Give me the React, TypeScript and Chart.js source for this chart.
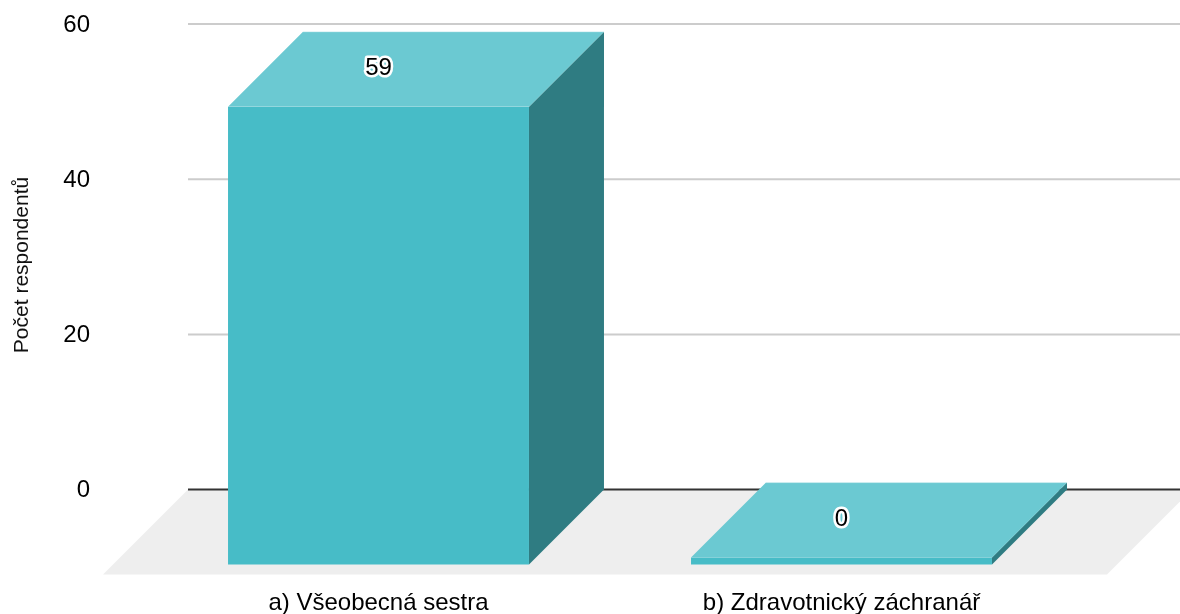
import React, { useEffect, useRef } from "react";
import { Chart, registerables } from "chart.js";

Chart.register(...registerables);

const categories = ["a) Všeobecná sestra", "b) Zdravotnický záchranář"];
const respondents = [59, 0];
const axisTitle = "Počet respondentů";

const FONT = "'Liberation Sans', Arial, sans-serif";
const DEPTH = 75;
const DROP = 75;
const FLOOR = 85;
const GRID_L = 188;
const GRID_R = 1192;

const box3d = {
  id: "box3d",
  beforeDatasetsDraw(chart: any) {
    const { ctx } = chart;
    const y = chart.scales.y;
    const zero = y.getPixelForValue(0);
    ctx.save();
    ctx.fillStyle = "#eeeeee";
    ctx.beginPath();
    ctx.moveTo(GRID_L, zero);
    ctx.lineTo(GRID_R, zero);
    ctx.lineTo(GRID_R - FLOOR, zero + FLOOR);
    ctx.lineTo(GRID_L - FLOOR, zero + FLOOR);
    ctx.closePath();
    ctx.fill();
    y.ticks.forEach((t: any) => {
      const py = y.getPixelForValue(t.value);
      ctx.strokeStyle = t.value === 0 ? "#333333" : "#cccccc";
      ctx.lineWidth = 2;
      ctx.beginPath();
      ctx.moveTo(GRID_L, py);
      ctx.lineTo(GRID_R, py);
      ctx.stroke();
    });
    chart.getDatasetMeta(0).data.forEach((el: any) => {
      const p = el.getProps(["x", "y", "base", "width"], true);
      const l = p.x - p.width / 2;
      const r = p.x + p.width / 2;
      const top = p.y + DROP;
      const bottom = p.base + DROP;
      ctx.fillStyle = "#2f7c82";
      ctx.beginPath();
      ctx.moveTo(r, top);
      ctx.lineTo(r + DEPTH, top - DEPTH);
      ctx.lineTo(r + DEPTH, bottom - DEPTH);
      ctx.lineTo(r, bottom);
      ctx.closePath();
      ctx.fill();
      ctx.fillStyle = "#6bc9d2";
      ctx.beginPath();
      ctx.moveTo(l, top);
      ctx.lineTo(r, top);
      ctx.lineTo(r + DEPTH, top - DEPTH);
      ctx.lineTo(l + DEPTH, top - DEPTH);
      ctx.closePath();
      ctx.fill();
      ctx.strokeStyle = "rgba(255,255,255,0.35)";
      ctx.lineWidth = 1;
      ctx.beginPath();
      ctx.moveTo(l, top);
      ctx.lineTo(r, top);
      ctx.moveTo(l + DEPTH, top - DEPTH);
      ctx.lineTo(r + DEPTH, top - DEPTH);
      ctx.stroke();
    });
    ctx.restore();
    ctx.save();
    ctx.translate(0, DROP);
  },
  afterDatasetsDraw(chart: any) {
    const { ctx } = chart;
    ctx.restore();
    ctx.save();
    ctx.font = `24px ${FONT}`;
    ctx.textAlign = "center";
    ctx.textBaseline = "middle";
    ctx.lineJoin = "round";
    chart.getDatasetMeta(0).data.forEach((el: any, i: number) => {
      const p = el.getProps(["x", "y"], true);
      const text = String(respondents[i]);
      ctx.strokeStyle = "#ffffff";
      ctx.lineWidth = 5;
      ctx.strokeText(text, p.x, p.y + 37);
      ctx.fillStyle = "#000000";
      ctx.fillText(text, p.x, p.y + 37);
    });
    ctx.restore();
    ctx.save();
    ctx.translate(22, 265);
    ctx.rotate(-Math.PI / 2);
    ctx.font = `21px ${FONT}`;
    ctx.fillStyle = "#111111";
    ctx.textAlign = "center";
    ctx.textBaseline = "middle";
    ctx.fillText(axisTitle, 0, 0);
    ctx.restore();
  },
};

export default function App() {
  const ref = useRef<HTMLCanvasElement>(null);
  useEffect(() => {
    const chart = new Chart(ref.current as HTMLCanvasElement, {
      type: "bar",
      data: {
        labels: categories,
        datasets: [
          {
            data: respondents,
            backgroundColor: "#47bcc7",
            borderWidth: 0,
            barPercentage: 0.65,
            categoryPercentage: 1,
            minBarLength: 7,
            clip: false,
          } as any,
        ],
      },
      plugins: [box3d],
      options: {
        animation: false,
        responsive: false,
        layout: { padding: { top: 24, right: 107, left: 0, bottom: 0 } },
        plugins: { legend: { display: false }, tooltip: { enabled: false } },
        scales: {
          x: {
            grid: { display: false },
            border: { display: false },
            afterFit: (s: any) => {
              s.height = 124.4;
              s.paddingLeft = 0;
              s.paddingRight = 0;
            },
            ticks: {
              autoSkip: false,
              maxRotation: 0,
              padding: 91,
              color: "#000000",
              font: { family: FONT, size: 24 },
            },
          },
          y: {
            min: 0,
            max: 60,
            grid: { display: false },
            border: { display: false },
            afterFit: (s: any) => {
              s.width = 147;
              s.paddingTop = 0;
              s.paddingBottom = 0;
            },
            ticks: {
              stepSize: 20,
              padding: 49,
              labelOffset: 1,
              color: "#000000",
              font: { family: FONT, size: 24 },
            },
          },
        },
      },
    } as any);
    return () => chart.destroy();
  }, []);
  return (
    <div style={{ position: "absolute", left: 0, top: 0, width: 1180, height: 614 }}>
      <canvas ref={ref} width={1180} height={614} style={{ display: "block" }} />
    </div>
  );
}
